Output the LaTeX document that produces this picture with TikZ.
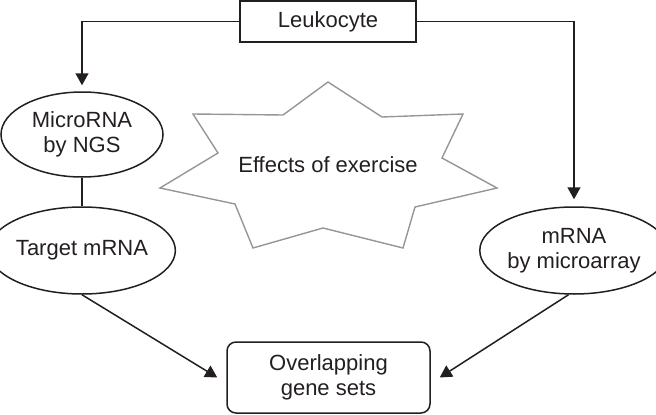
\documentclass[tikz,border=0pt]{standalone}
\usepackage{fontspec}
\setmainfont{Liberation Sans}
\usetikzlibrary{shapes.geometric,arrows.meta}
\definecolor{stargray}{RGB}{150,150,150}
\definecolor{ink}{RGB}{35,31,32}
\begin{document}
\begin{tikzpicture}[x=1pt,y=-1pt,
  every node/.style={font=\fontsize{22}{25}\selectfont, text=ink, align=center},
  boxnode/.style={draw=ink, line width=1.5pt, rectangle, minimum width=176pt, minimum height=41pt, inner sep=0pt},
  ellnode/.style={draw=ink, line width=1.5pt, ellipse, minimum width=162pt, minimum height=86pt, inner sep=0pt},
  roundnode/.style={draw=ink, line width=1.5pt, rectangle, rounded corners=9pt, minimum width=203pt, minimum height=71pt, inner sep=0pt},
  conn/.style={draw=ink, line width=1.5pt},
  arr/.style={conn, -{Triangle[width=13pt,length=12pt]}}
]
\useasboundingbox (0,0) rectangle (656,415);
% star
\draw[stargray, line width=1.4pt, line join=miter]
  (328,82) -- (382,117) -- (463,114) -- (442,158) -- (497,188) -- (415,207)
  -- (403,248) -- (323,228) -- (253,248) -- (235,204) -- (160,188) -- (218,153)
  -- (193,114) -- (283,115) -- cycle;
\node (effects) at (328,165) {Effects of exercise};
% nodes
\node[boxnode] (leuk) at (328,21.5) {Leukocyte};
\node[ellnode, minimum height=85pt] (micro) at (82,134.5) {MicroRNA\\by NGS};
\node[ellnode, minimum height=87pt] (target) at (82,250.5) {Target mRNA};
\node[ellnode, minimum height=87pt] (mrna) at (574,250.5) {mRNA\\by microarray};
\node[roundnode] (overlap) at (328.5,377.5) {Overlapping\\gene sets};
% connectors
\draw[arr, shorten >=6pt] (leuk.west) -| (micro.north);
\draw[arr, shorten >=7pt] (leuk.east) -| (mrna.north);
\draw[conn] (micro.south) -- (target.north);
\draw[arr] (target.south) -- ([xshift=-9pt]overlap.west);
\draw[arr] (mrna.263) -- ([xshift=9pt]overlap.east);
\end{tikzpicture}
\end{document}
